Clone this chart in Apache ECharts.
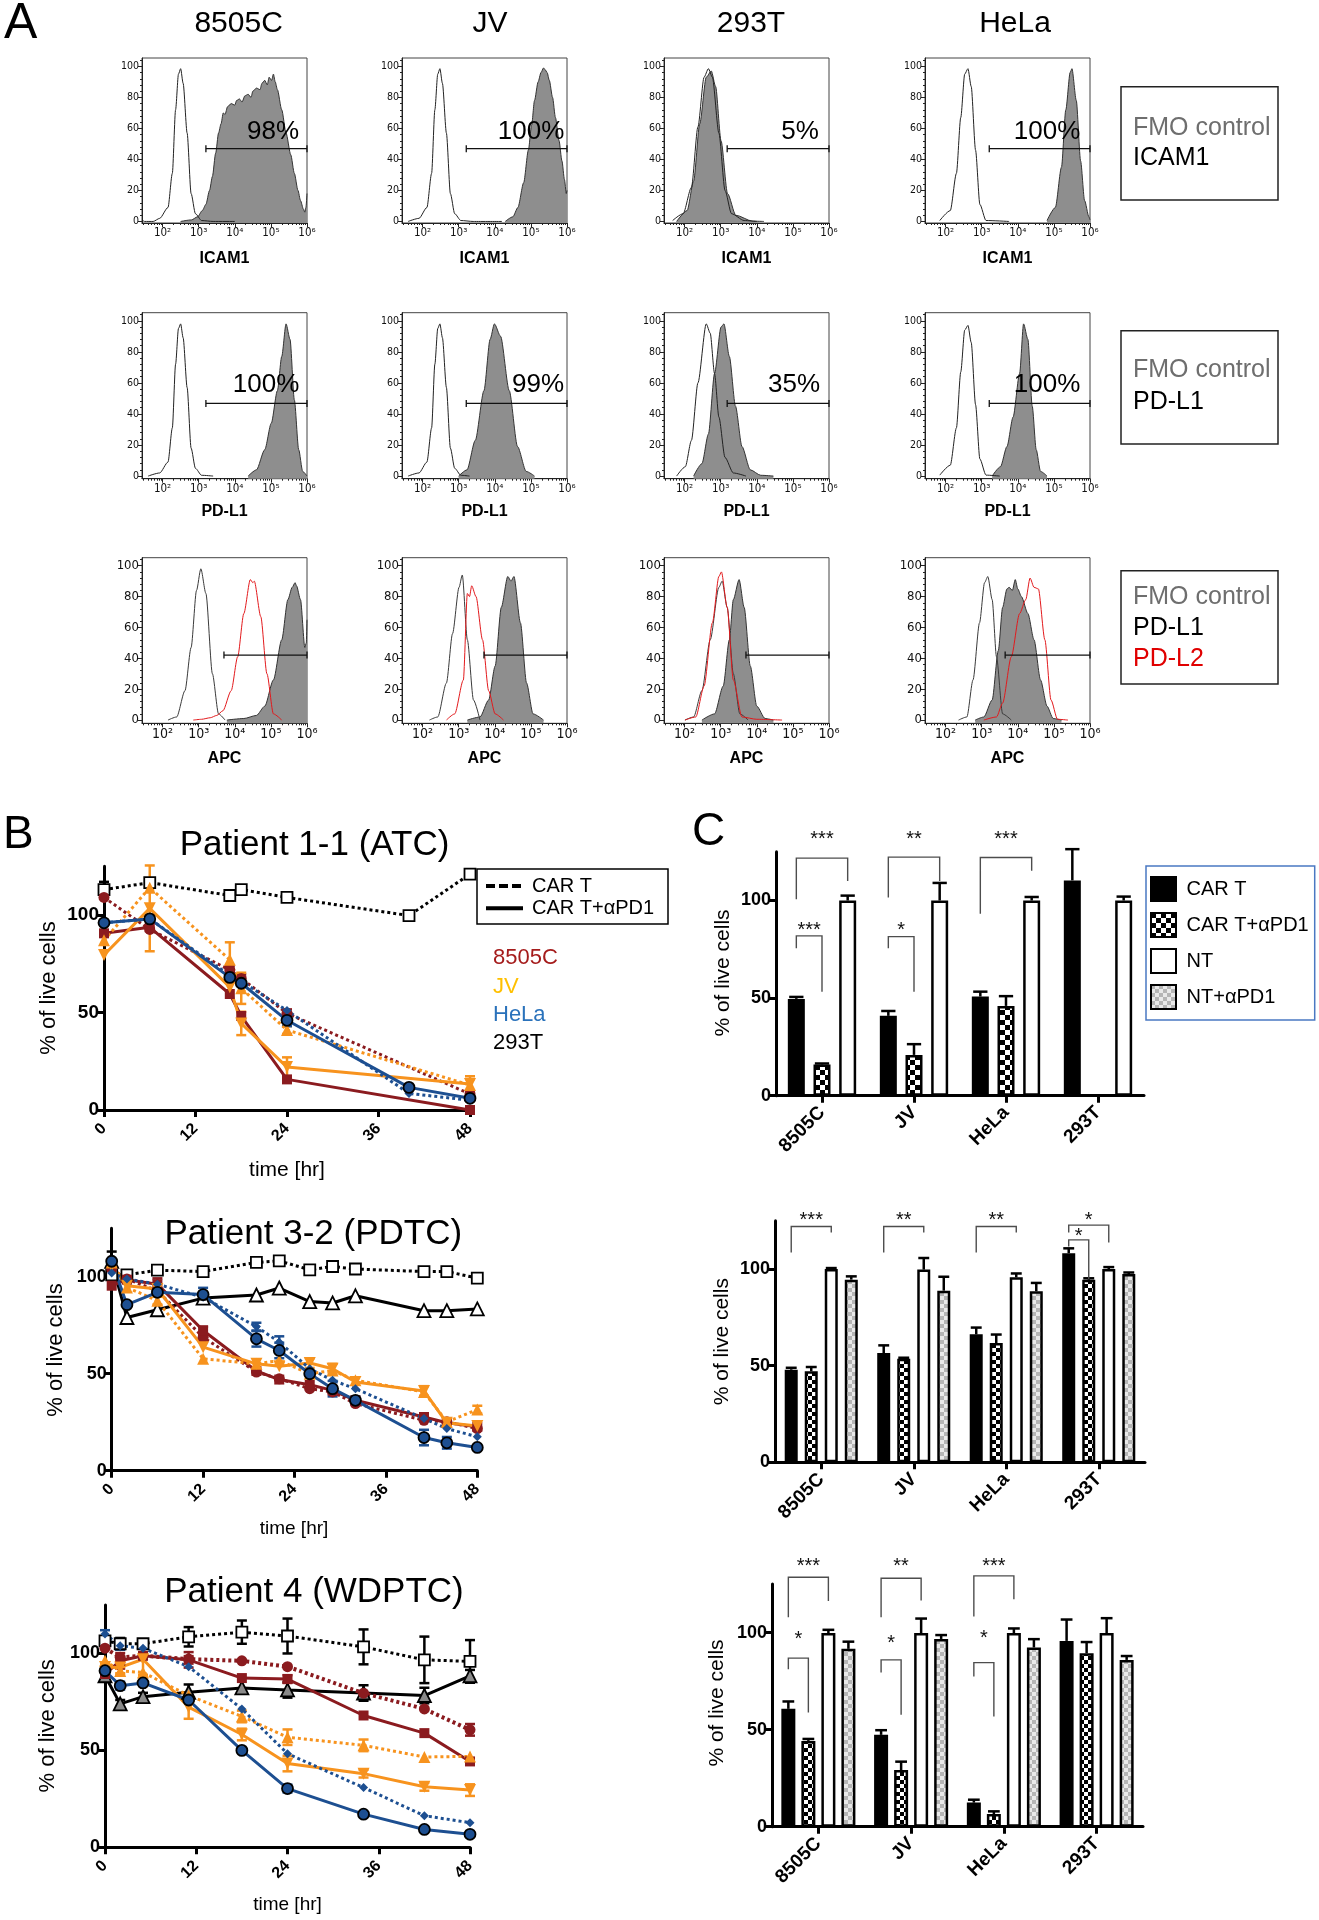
<!DOCTYPE html>
<html><head><meta charset="utf-8">
<script src="https://cdn.jsdelivr.net/npm/echarts@6/dist/echarts.min.js"></script>
<style>html,body{margin:0;padding:0;background:#fff}#c{width:1319px;height:1920px}</style>
</head><body><div id="c"></div><script>
// ================= DATA =================
// ---- Panel A: flow histograms. x = log10(fluorescence), y = % of max ----
const cellLines = ['8505C', 'JV', '293T', 'HeLa'];
const stainNames = ['ICAM1', 'PD-L1', 'APC'];
const logTicks = [2, 3, 4, 5, 6];
const logTickLabels = ['10²', '10³', '10⁴', '10⁵', '10⁶'];
const countTicks = [0, 20, 40, 60, 80, 100];
const pctICAM1 = ['98%', '100%', '5%', '100%'];
const pctPDL1 = ['100%', '99%', '35%', '100%'];
const gateStartICAM1 = [3.20, 3.21, 3.18, 3.21];
const gateStartPDL1 = [3.20, 3.21, 3.18, 3.21];
const gateStartAPC = [3.70, 3.70, 3.70, 3.65];
const gateLevel = [46.9, 46.8, 42.1];
const gateEnd = 6.0;

const icam_8505C_fmo = [[1.43,1],[1.5,0],[1.74,0],[1.92,2],[2.15,9],[2.27,31],[2.36,72],[2.44,95],[2.5,98.5],[2.57,89],[2.68,57],[2.79,18],[2.91,5],[3.08,0.6],[3.4,0],[4.0,0]];
const icam_8505C_pos = [[2.5,0],[2.8,1],[2.97,3],[3.1,7],[3.2,11],[3.3,20],[3.38,29],[3.47,44],[3.55,57],[3.62,63],[3.68,70],[3.73,69],[3.8,74],[3.9,76],[4.0,75],[4.05,78],[4.13,79],[4.2,77],[4.28,81],[4.37,82],[4.45,80],[4.5,84],[4.6,86],[4.7,85],[4.75,89],[4.83,91],[4.9,88],[4.95,93],[5.02,91],[5.07,95],[5.12,90],[5.18,85],[5.3,72],[5.42,57],[5.55,43],[5.65,31],[5.75,20],[5.82,13.5],[5.9,8],[5.94,6],[5.97,9],[6.0,18]];
const icam_JV_fmo = [[1.6,0],[1.9,2],[2.12,9],[2.25,31],[2.34,72],[2.42,95],[2.48,98.5],[2.55,89],[2.66,57],[2.77,18],[2.89,5],[3.06,0.6],[3.4,0],[4.2,0]];
const icam_JV_pos = [[4.29,0],[4.5,3],[4.64,9],[4.8,25],[4.93,46],[5.02,62],[5.1,78],[5.2,90],[5.28,96],[5.35,99],[5.39,98],[5.45,96],[5.51,91],[5.6,80],[5.68,67],[5.78,52],[5.86,39],[5.93,27],[5.98,18],[6.0,20]];
const icam_293T_fmo = [[1.67,0.6],[1.96,5],[2.19,22],[2.37,61],[2.54,93],[2.66,98.5],[2.77,93],[2.95,57],[3.12,20],[3.3,5],[3.65,0.6],[4.0,0]];
const icam_293T_pos = [[1.78,0],[2.07,7],[2.25,26],[2.42,63],[2.6,93],[2.74,97],[2.86,87],[3.01,52],[3.19,18],[3.42,4],[3.88,0.2],[4.2,0]];
const icam_HeLa_fmo = [[1.84,0.6],[2.13,7],[2.3,31],[2.42,67],[2.53,95],[2.62,98.5],[2.71,87],[2.83,46],[2.95,11],[3.12,0.6],[3.76,0]];
const icam_HeLa_pos = [[4.81,0.6],[5.04,9],[5.21,35],[5.33,72],[5.45,96],[5.5,98.5],[5.62,78],[5.74,39],[5.85,13.5],[5.97,3],[6.0,1]];

const pdl1_8505C_fmo = [[1.6,0],[1.92,2],[2.15,9],[2.27,31],[2.36,72],[2.44,95],[2.5,98],[2.57,89],[2.68,57],[2.79,18],[2.91,5],[3.08,0.5],[3.4,0]];
const pdl1_8505C_pos = [[4.37,0],[4.6,4],[4.83,17],[5.01,34],[5.18,55],[5.3,77],[5.42,98],[5.53,88],[5.65,49],[5.77,17],[5.88,3],[6.0,0]];
const pdl1_JV_fmo = [[1.6,0],[1.9,2],[2.12,9],[2.25,31],[2.34,72],[2.42,95],[2.48,98],[2.55,89],[2.66,57],[2.77,18],[2.89,5],[3.06,0.5],[3.3,0]];
const pdl1_JV_pos = [[3.0,0],[3.23,4],[3.46,23],[3.7,55],[3.87,88],[3.99,98],[4.16,90],[4.4,55],[4.63,19],[4.87,3],[5.1,0]];
const pdl1_293T_fmo = [[1.78,0],[2.02,6],[2.19,23],[2.37,60],[2.6,98],[2.71,92],[2.83,66],[2.95,38],[3.12,12],[3.35,2],[3.7,0]];
const pdl1_293T_pos = [[2.25,0],[2.48,8],[2.66,27],[2.83,66],[3.01,96],[3.09,98],[3.24,77],[3.41,45],[3.59,19],[3.82,4],[4.11,0.5],[4.46,0]];
const pdl1_HeLa_fmo = [[1.84,0.6],[2.13,7],[2.3,31],[2.42,67],[2.53,94],[2.62,97],[2.71,86],[2.83,46],[2.95,11],[3.12,0.6],[3.5,0]];
const pdl1_HeLa_pos = [[3.29,0],[3.52,6],[3.7,19],[3.87,38],[4.05,66],[4.16,98],[4.28,88],[4.4,45],[4.51,17],[4.63,3],[4.81,0]];

const apc_8505C_fmo = [[2.15,0],[2.39,2],[2.62,19],[2.79,47],[2.94,84],[3.06,98],[3.2,82],[3.38,30],[3.55,4],[3.73,0]];
const apc_8505C_pdl2 = [[2.85,0],[3.08,0.5],[3.32,1.5],[3.5,3],[3.67,6],[3.9,19],[4.08,41],[4.25,69],[4.43,91],[4.5,89],[4.54,90],[4.72,67],[4.89,30],[5.07,4],[5.3,0]];
const apc_8505C_pdl1 = [[3.78,0],[4.25,1],[4.6,3],[4.83,9],[5.07,26],[5.3,52],[5.47,78],[5.59,86],[5.67,89],[5.71,87],[5.82,78],[5.94,47],[5.98,50],[6.0,65]];
const apc_JV_fmo = [[2.19,0],[2.42,2],[2.66,24],[2.83,56],[3.01,86],[3.1,94],[3.24,52],[3.41,13],[3.59,0]];
const apc_JV_pdl2 = [[2.66,0],[2.89,4],[3.13,26],[3.24,82],[3.3,80],[3.36,87],[3.48,80],[3.66,52],[3.83,19],[4.01,4],[4.24,0]];
const apc_JV_pdl1 = [[3.24,0],[3.59,2],[3.83,13],[4.01,35],[4.18,73],[4.36,93],[4.45,90],[4.53,93],[4.71,63],[4.88,24],[5.06,4],[5.35,0]];
const apc_293T_fmo = [[2.01,0],[2.25,2],[2.48,19],[2.71,52],[2.95,86],[3.04,90],[3.18,73],[3.35,30],[3.53,4],[3.76,0]];
const apc_293T_pdl2 = [[2.01,0],[2.31,2],[2.54,22],[2.77,63],[2.95,93],[3.02,96],[3.18,73],[3.35,26],[3.59,2],[4.0,0.5],[4.7,0]];
const apc_293T_pdl1 = [[2.48,0],[2.83,4],[3.07,22],[3.24,52],[3.35,78],[3.51,91],[3.65,73],[3.82,35],[4.0,9],[4.23,1],[4.46,0]];
const apc_HeLa_fmo = [[2.36,0],[2.59,2],[2.76,26],[2.94,63],[3.08,89],[3.17,93],[3.29,78],[3.41,41],[3.58,4],[3.82,0]];
const apc_HeLa_pdl1 = [[2.82,0],[3.06,2],[3.29,13],[3.46,45],[3.58,73],[3.7,85],[3.76,86],[3.85,84],[3.93,91],[4.0,85],[4.1,80],[4.28,69],[4.45,52],[4.63,26],[4.81,9],[4.98,1],[5.21,0]];
const apc_HeLa_pdl2 = [[3.06,0],[3.41,2],[3.58,11],[3.82,41],[4.05,69],[4.22,78],[4.34,92],[4.45,86],[4.57,85],[4.75,52],[4.92,13],[5.1,0.5],[5.39,0]];

// ---- Panel B: % live cells over time ----
const timeTicks = [0, 12, 24, 36, 48];
const liveTicks = [0, 50, 100];

const p11Hours = [0, 6, 16.5, 18, 24, 40, 48];
const p11_293T_CART = [113, 116.6, 110, 113, 109, 99.7, 121];
const p11_293T_CART_err = [4, 1, 1, 1, 1, 1, 1];
const p11_8505C_CART = [109, 92.6, 71.8, 67.5, 49.6, null, 8.2];
const p11_8505C_CART_err = [0, 0, 2, 2, 2, 0, 1];
const p11_8505C_PD1 = [90.6, 93.7, 59.5, 48.2, 15.7, null, 0];
const p11_8505C_PD1_err = [0, 0, 0, 0, 0, 0, 0];
const p11_JV_CART = [87, 114, 77, 62.4, 41, null, 12.8];
const p11_JV_CART_err = [0, 0, 9, 8, 2, 0, 3];
const p11_JV_PD1 = [79.5, 103.4, 63, 44.4, 22, null, 13.3];
const p11_JV_PD1_err = [0, 22, 0, 6, 5, 0, 4];
const p11_HeLa_CART = [96, 98, 69, 66, 51, 8.5, 5];
const p11_HeLa_CART_err = [0, 0, 0, 0, 0, 0, 0];
const p11_HeLa_PD1 = [96, 98, 68, 65, 46, 11.6, 6];
const p11_HeLa_PD1_err = [0, 0, 0, 0, 3, 0, 0];

const p32Hours = [0, 2, 6, 12, 19, 22, 26, 29, 32, 41, 44, 48];
const p32_293T_CART = [101, 101, 103.4, 102.7, 107.4, 108.2, 103.6, 105.3, 104, 102.7, 102.7, 99.3];
const p32_293T_CART_err = [0, 0, 1, 1, 1, 1, 1, 1, 1, 1, 1, 0];
const p32_293T_PD1 = [108, 79, 83, 89, 90.6, 94.2, 87.2, 86.5, 90.2, 82.5, 82.5, 83.4];
const p32_293T_PD1_err = [5, 0, 0, 0, 0, 0, 0, 0, 0, 0, 0, 0];
const p32_8505C_CART = [104, 98.8, 92.8, 68.8, 50.9, 47.4, 42.3, 40.6, 34.6, 26, 25.2, 21.7];
const p32_8505C_CART_err = [0, 0, 0, 0, 0, 0, 0, 0, 0, 0, 0, 0];
const p32_8505C_PD1 = [95.4, 98.5, 96.2, 72.3, 51.4, 47, 44.3, 41.4, 36.3, 27.7, 24.7, 22.6];
const p32_8505C_PD1_err = [0, 0, 3, 2, 0, 0, 0, 0, 0, 0, 0, 0];
const p32_JV_CART = [107.4, 94.5, 87.7, 57.7, 55.1, 56.8, 50, 51.7, 46.6, 40.6, 25.2, 31.5];
const p32_JV_CART_err = [0, 0, 2, 0, 0, 0, 0, 0, 0, 0, 0, 2];
const p32_JV_PD1 = [105.7, 95.4, 93.7, 63.7, 55.1, 53.9, 55.5, 52.6, 45.7, 41.1, 24.7, 23];
const p32_JV_PD1_err = [0, 0, 0, 0, 0, 0, 2.5, 2.5, 0, 2.5, 0, 0];
const p32_HeLa_CART = [102, 98.8, 96.2, 89.4, 74.3, 66.3, 52.6, 46.6, 42.3, 26.9, 21.7, 17.5];
const p32_HeLa_CART_err = [0, 0, 0, 0, 2, 3, 0, 0, 0, 0, 0, 0];
const p32_HeLa_PD1 = [108, 85.6, 92, 90.8, 68, 62, 50, 42.3, 36.3, 17.1, 14.4, 12];
const p32_HeLa_PD1_err = [0, 0, 0, 3.5, 4, 4, 0, 4, 2, 4, 3, 0];

const p4Hours = [0, 2, 5, 11, 18, 24, 34, 42, 48];
const p4_293T_CART = [106.5, 105, 105, 108.6, 111, 109, 103.4, 96.7, 95.9];
const p4_293T_CART_err = [0, 3, 2, 5, 6, 9, 9, 12, 11];
const p4_293T_PD1 = [88.5, 74, 77.7, 80, 82.2, 81.2, 79.6, 78.3, 88.5];
const p4_293T_PD1_err = [0, 2, 2, 4, 0, 4, 4, 4, 3];
const p4_8505C_CART = [102.7, 98, 98.8, 97.1, 96.2, 93.2, 79.5, 71.4, 60.6];
const p4_8505C_CART_err = [0, 0, 0, 0, 0, 0, 0, 0, 3];
const p4_8505C_PD1 = [89.4, 96.2, 98.8, 96.7, 87.3, 86.8, 68, 58.9, 44.3];
const p4_8505C_PD1_err = [0, 4, 0, 4, 0, 2, 0, 0, 0];
const p4_JV_CART = [96.2, 91, 90.2, 78.3, 67.5, 56.8, 52.6, 46.6, 46.9];
const p4_JV_CART_err = [0, 2, 0, 0, 3, 4, 3, 0, 0];
const p4_JV_PD1 = [93, 92.8, 97, 72.3, 58.2, 43.2, 38, 31.2, 29.5];
const p4_JV_PD1_err = [2, 3, 8, 6, 3, 4, 2, 2, 3];
const p4_HeLa_CART = [110, 104, 102.7, 93.2, 71.4, 48.3, 30.8, 16.3, 12.7];
const p4_HeLa_CART_err = [2, 2, 0, 0, 0, 0, 0, 0, 0];
const p4_HeLa_PD1 = [91.1, 83.4, 84.8, 76, 50, 30.3, 17.1, 9.2, 6.7];
const p4_HeLa_PD1_err = [0, 2, 0, 0, 0, 2, 0, 0, 0];

// ---- Panel C: bar charts ----
const barCategories = ['8505C', 'JV', 'HeLa', '293T'];
const barSeriesNames = ['CAR T', 'CAR T+αPD1', 'NT', 'NT+αPD1'];
const c1_CART = [49.6, 40.9, 50.8, 110.3];      const c1_CART_err = [1, 2.5, 2.5, 16];
const c1_CART_PD1 = [16, 20.9, 46, null];      const c1_CART_PD1_err = [0.5, 5.5, 5, 0];
const c1_NT = [100, 100, 100, 100];            const c1_NT_err = [2.5, 9, 1.8, 2];
const c2_CART = [47.9, 56.5, 66.2, 108.2];     const c2_CART_err = [1, 4, 3.5, 2.5];
const c2_CART_PD1 = [47.1, 53.6, 61.7, 94.5];  const c2_CART_PD1_err = [2.2, 0.5, 4.4, 0.7];
const c2_NT = [100, 99.7, 95.7, 100];          const c2_NT_err = [0.5, 6, 2, 1];
const c2_NT_PD1 = [94.5, 88.8, 88.5, 97.4];    const c2_NT_PD1_err = [1.7, 7.2, 4.3, 0.8];
const c3_CART = [60.7, 47.3, 12.4, 95.7];      const c3_CART_err = [3.8, 2.4, 1.5, 11];
const c3_CART_PD1 = [44.2, 29.2, 6.5, 89.3];   const c3_CART_PD1_err = [1, 4.3, 1.4, 5.8];
const c3_NT = [99.7, 99.7, 99.7, 99.7];        const c3_NT_err = [1.7, 7.5, 2.4, 7.7];
const c3_NT_PD1 = [91.6, 96.7, 92.3, 85.9];    const c3_NT_PD1_err = [3.7, 2, 4.3, 2];
// brackets: [category, barA, barB, topValue, legEndA, legEndB, starValue]
const c1_brackets = [[0,0,2,121.7,100.7,110,133.7],[0,0,1,81.9,75.6,53.3,87],[1,0,2,122.2,101.5,110,133.7],[1,0,1,81.5,75.6,53.3,87],[2,0,2,122,93.2,115.2,133.7]];
const c1_stars = ['***', '***', '**', '*', '***'];
const c2_brackets = [[0,0,2,122,108.6,118.9,127.8],[1,0,2,122,108.6,118.9,127.8],[2,0,2,122,108.6,118.9,127.8],[3,0,2,122.7,118.9,113.7,127.8],[3,0,1,115.1,111.7,94.8,119.3]];
const c2_stars = ['***', '**', '**', '*', '*'];
const c3_brackets = [[0,0,2,128.5,107.9,116.3,136.8],[0,0,1,86.8,81.1,58.8,98.8],[1,0,2,128,107.9,116.5,136.8],[1,0,1,85.9,79.4,57.6,97],[2,0,2,129.2,108.2,117.2,136.8],[2,0,1,84.5,77.3,56.7,99.7]];
const c3_stars = ['***', '*', '**', '*', '***', '*'];

// ================= BUILD =================
const SANS = "'Liberation Sans', Arial, sans-serif";
const NARROW = "'DejaVu Sans Condensed','DejaVu Sans','Liberation Sans',sans-serif";
const C8505 = '#8b1b1f', CJV = '#f7931e', CHELA = '#1d4f91';
const grids = [], xAxes = [], yAxes = [], series = [], gfx = [];

function txt(s, x, y, size, o) {
  o = o || {};
  gfx.push({type: 'text', x: x, y: y, rotation: o.rot || 0, z: 100, silent: true,
    style: {text: s, fontSize: size, fontFamily: o.family || SANS, fontWeight: o.weight || 'normal',
      fill: o.color || '#000', align: o.align || 'center', verticalAlign: 'middle',
      textAlign: o.align || 'center', textVerticalAlign: 'middle'}});
}
function rect(x, y, w, h, color, lw) {
  gfx.push({type: 'rect', z: 90, silent: true, shape: {x: x, y: y, width: w, height: h}, style: {fill: 'none', stroke: color, lineWidth: lw}});
}
function gline(x1, y1, x2, y2, lw, dash) {
  gfx.push({type: 'line', z: 90, silent: true, shape: {x1: x1, y1: y1, x2: x2, y2: y2}, style: {stroke: '#000', lineWidth: lw, lineDash: dash || null}});
}
function checker(c1, c2, s) {
  const cv = document.createElement('canvas'); cv.width = cv.height = 2 * s;
  const ctx = cv.getContext('2d'); ctx.fillStyle = c1; ctx.fillRect(0, 0, 2 * s, 2 * s);
  ctx.fillStyle = c2; ctx.fillRect(0, 0, s, s); ctx.fillRect(s, s, s, s);
  return {image: cv, repeat: 'repeat'};
}

// ---------- Panel A ----------
const rowTop = [58, 312.7, 557.7], rowH = [165, 166, 165.6], rowMin = [-1, -1.7, -2.1], rowMax = [105.4, 105.2, 105.2];
const colLeft = [142, 402, 664, 925], boxW = 165;
const histCurves = [
  [{fill: icam_8505C_pos, fmo: icam_8505C_fmo}, {fill: icam_JV_pos, fmo: icam_JV_fmo}, {fill: icam_293T_pos, fmo: icam_293T_fmo}, {fill: icam_HeLa_pos, fmo: icam_HeLa_fmo}],
  [{fill: pdl1_8505C_pos, fmo: pdl1_8505C_fmo}, {fill: pdl1_JV_pos, fmo: pdl1_JV_fmo}, {fill: pdl1_293T_pos, fmo: pdl1_293T_fmo}, {fill: pdl1_HeLa_pos, fmo: pdl1_HeLa_fmo}],
  [{fill: apc_8505C_pdl1, fmo: apc_8505C_fmo, red: apc_8505C_pdl2}, {fill: apc_JV_pdl1, fmo: apc_JV_fmo, red: apc_JV_pdl2}, {fill: apc_293T_pdl1, fmo: apc_293T_fmo, red: apc_293T_pdl2}, {fill: apc_HeLa_pdl1, fmo: apc_HeLa_fmo, red: apc_HeLa_pdl2}]
];
const gateStarts = [gateStartICAM1, gateStartPDL1, gateStartAPC];
const minorLog = []; for (let n = 1; n <= 5; n++) for (let k = 2; k <= 9; k++) { const v = n + Math.log10(k); if (v > 1.43 && v < 6) minorLog.push(v); }
const minorCount = []; for (let v = 4; v <= 104; v += 4) if (v % 20 !== 0) minorCount.push(v);

function gateRender(params, api) {
  const p0 = api.coord([api.value(0), api.value(2)]), p1 = api.coord([api.value(1), api.value(2)]);
  return {type: 'group', children: [
    {type: 'line', shape: {x1: p0[0], y1: p0[1], x2: p1[0], y2: p1[1]}, style: {stroke: '#111', lineWidth: 1.3}},
    {type: 'line', shape: {x1: p0[0], y1: p0[1] - 3.5, x2: p0[0], y2: p0[1] + 3.5}, style: {stroke: '#111', lineWidth: 1.3}},
    {type: 'line', shape: {x1: p1[0], y1: p1[1] - 3.5, x2: p1[0], y2: p1[1] + 3.5}, style: {stroke: '#111', lineWidth: 1.3}}
  ]};
}

for (let r = 0; r < 3; r++) {
  for (let c = 0; c < 4; c++) {
    const g = grids.length;
    grids.push({left: colLeft[c], top: rowTop[r], width: boxW, height: rowH[r], show: true, borderColor: '#444', borderWidth: 1, backgroundColor: 'transparent'});
    const fs = r === 2 ? 13 : 10.5;
    const xi = xAxes.length;
    xAxes.push({type: 'value', gridIndex: g, position: 'bottom', min: 1.43, max: 6,
      axisLine: {show: true, onZero: false, lineStyle: {color: '#222', width: 1}}, splitLine: {show: false},
      axisTick: {show: true, customValues: logTicks, length: 4, lineStyle: {color: '#222'}},
      axisLabel: {show: true, customValues: logTicks, margin: 4, fontSize: fs + 1, fontFamily: NARROW, color: '#111',
        formatter: function (v) { return logTickLabels[logTicks.indexOf(Math.round(v))]; }}});
    xAxes.push({type: 'value', gridIndex: g, position: 'bottom', min: 1.43, max: 6,
      axisLine: {show: false, onZero: false}, splitLine: {show: false},
      axisTick: {show: true, customValues: minorLog, length: 2, lineStyle: {color: '#222'}}, axisLabel: {show: false}});
    const yi = yAxes.length;
    yAxes.push({type: 'value', gridIndex: g, position: 'left', min: rowMin[r], max: rowMax[r],
      axisLine: {show: true, onZero: false, lineStyle: {color: '#222', width: 1}}, splitLine: {show: false},
      axisTick: {show: true, customValues: countTicks, length: 4, lineStyle: {color: '#222'}},
      axisLabel: {show: true, customValues: countTicks, fontSize: fs, fontFamily: NARROW, color: '#111', margin: 3}});
    yAxes.push({type: 'value', gridIndex: g, position: 'left', min: rowMin[r], max: rowMax[r],
      axisLine: {show: false, onZero: false}, splitLine: {show: false},
      axisTick: {show: true, customValues: minorCount, length: 2, lineStyle: {color: '#222'}}, axisLabel: {show: false}});
    const cv = histCurves[r][c];
    series.push({type: 'line', xAxisIndex: xi, yAxisIndex: yi, data: cv.fill, smooth: 0.25, smoothMonotone: 'x', symbol: 'none', silent: true,
      lineStyle: {color: '#333', width: 1}, areaStyle: {color: '#8e8e8e', opacity: 1, origin: 'start'}, z: 2});
    series.push({type: 'line', xAxisIndex: xi, yAxisIndex: yi, data: cv.fmo, smooth: 0.25, smoothMonotone: 'x', symbol: 'none', silent: true,
      lineStyle: {color: r === 2 ? '#3a3a3a' : '#222', width: 1}, z: 3});
    if (cv.red) series.push({type: 'line', xAxisIndex: xi, yAxisIndex: yi, data: cv.red, smooth: 0.25, smoothMonotone: 'x', symbol: 'none', silent: true,
      lineStyle: {color: '#e3191c', width: 1}, z: 4});
    series.push({type: 'custom', xAxisIndex: xi, yAxisIndex: yi, data: [[gateStarts[r][c], gateEnd, gateLevel[r]]], renderItem: gateRender, z: 5, silent: true});
    txt(stainNames[r], colLeft[c] + boxW / 2, [258.3, 511.7, 758.3][r], 16, {weight: 'bold'});
  }
}
txt('A', 4, 24, 50, {align: 'left'});
[238.6, 490, 751, 1015].forEach((x, i) => txt(cellLines[i], x, 24, 30));
[273, 531, 800, 1047].forEach((x, i) => txt(pctICAM1[i], x, 131.7, 26));
[266, 538, 794, 1047].forEach((x, i) => txt(pctPDL1[i], x, 385, 26));
rect(1121, 86.7, 157, 113.3, '#222', 1.5);
txt('FMO control', 1133, 127.7, 25, {align: 'left', color: '#6e6e6e'});
txt('ICAM1', 1133, 158.3, 25, {align: 'left'});
rect(1121, 330.7, 157, 113.3, '#222', 1.5);
txt('FMO control', 1133, 370, 25, {align: 'left', color: '#6e6e6e'});
txt('PD-L1', 1133, 401.7, 25, {align: 'left'});
rect(1121, 570.7, 157, 113.3, '#222', 1.5);
txt('FMO control', 1133, 596.7, 25, {align: 'left', color: '#6e6e6e'});
txt('PD-L1', 1133, 628.3, 25, {align: 'left'});
txt('PD-L2', 1133, 659.3, 25, {align: 'left', color: '#e00000'});

// ---------- Panel B ----------
function lineErrRender(colors) {
  return function (params, api) {
    const t = api.value(0), v = api.value(1), e = api.value(2), ci = api.value(3);
    const a = api.coord([t, v - e]), b = api.coord([t, v + e]);
    const st = {stroke: colors[ci], lineWidth: 2.5};
    return {type: 'group', children: [
      {type: 'line', shape: {x1: a[0], y1: a[1], x2: b[0], y2: b[1]}, style: st},
      {type: 'line', shape: {x1: a[0] - 5, y1: a[1], x2: a[0] + 5, y2: a[1]}, style: st},
      {type: 'line', shape: {x1: b[0] - 5, y1: b[1], x2: b[0] + 5, y2: b[1]}, style: st}
    ]};
  };
}
function addTimeCourse(box, hours, specs, tickFs, labFs) {
  const g = grids.length;
  grids.push({left: box.left, top: box.top, width: box.width, height: box.height});
  const xi = xAxes.length;
  xAxes.push({type: 'value', gridIndex: g, position: 'bottom', min: 0, max: 48, interval: 12,
    axisLine: {show: true, onZero: false, lineStyle: {color: '#000', width: 3}}, splitLine: {show: false},
    axisTick: {show: true, length: 7, lineStyle: {color: '#000', width: 3}},
    axisLabel: {show: true, customValues: timeTicks, rotate: 45, fontWeight: 'bold', fontSize: labFs, color: '#000', margin: 16, fontFamily: SANS}});
  const yi = yAxes.length;
  yAxes.push({type: 'value', gridIndex: g, position: 'left', min: 0, max: 125,
    axisLine: {show: true, onZero: false, lineStyle: {color: '#000', width: 3}}, splitLine: {show: false},
    axisTick: {show: true, customValues: liveTicks, length: 7, lineStyle: {color: '#000', width: 3}},
    axisLabel: {show: true, customValues: liveTicks, fontWeight: 'bold', fontSize: tickFs, color: '#000', margin: 5, fontFamily: SANS}});
  const errData = [];
  specs.forEach(function (s, k) {
    const data = [];
    hours.forEach(function (h, i) { if (s.vals[i] != null) data.push([h, s.vals[i]]); });
    series.push({type: 'line', xAxisIndex: xi, yAxisIndex: yi, data: data, symbol: s.sym, symbolSize: s.size, symbolRotate: s.rot || 0,
      showAllSymbol: true, silent: true, z: 3,
      lineStyle: {color: s.color, width: s.w || 3, type: s.dot ? [3, 3] : 'solid'},
      itemStyle: {color: s.fill, borderColor: s.border || s.fill, borderWidth: s.border ? 1.8 : 0}});
    s.err.forEach(function (e, i) { if (e > 0 && s.vals[i] != null) errData.push([hours[i], s.vals[i], e, k]); });
  });
  series.push({type: 'custom', xAxisIndex: xi, yAxisIndex: yi, data: errData, renderItem: lineErrRender(specs.map(function (s) { return s.color; })), z: 2, silent: true});
}
function specsFor(d) {
  return [
    {vals: d.t293c, err: d.t293ce, color: '#000', dot: true, sym: 'rect', size: 11, fill: '#fff', border: '#000'},
    {vals: d.t293p, err: d.t293pe, color: '#000', dot: false, sym: 'triangle', size: 13, fill: d.triFill, border: '#000'},
    {vals: d.a8c, err: d.a8ce, color: C8505, dot: true, sym: 'circle', size: 11, fill: C8505, w: d.w8 || 3},
    {vals: d.a8p, err: d.a8pe, color: C8505, dot: false, sym: 'rect', size: 10, fill: C8505},
    {vals: d.jvc, err: d.jvce, color: CJV, dot: true, sym: 'triangle', size: 12, fill: CJV},
    {vals: d.jvp, err: d.jvpe, color: CJV, dot: false, sym: 'triangle', rot: 180, size: 12, fill: CJV},
    {vals: d.hc, err: d.hce, color: CHELA, dot: true, sym: 'diamond', size: 9, fill: CHELA},
    {vals: d.hp, err: d.hpe, color: CHELA, dot: false, sym: 'circle', size: 11, fill: CHELA, border: '#000'}
  ].filter(function (s) { return s.vals; });
}
addTimeCourse({left: 104, top: 866.25, width: 366, height: 243.75}, p11Hours, specsFor({
  t293c: p11_293T_CART, t293ce: p11_293T_CART_err,
  a8c: p11_8505C_CART, a8ce: p11_8505C_CART_err, a8p: p11_8505C_PD1, a8pe: p11_8505C_PD1_err,
  jvc: p11_JV_CART, jvce: p11_JV_CART_err, jvp: p11_JV_PD1, jvpe: p11_JV_PD1_err,
  hc: p11_HeLa_CART, hce: p11_HeLa_CART_err, hp: p11_HeLa_PD1, hpe: p11_HeLa_PD1_err}), 19, 16);
addTimeCourse({left: 111.7, top: 1228.3, width: 365.6, height: 242.4}, p32Hours, specsFor({
  t293c: p32_293T_CART, t293ce: p32_293T_CART_err, t293p: p32_293T_PD1, t293pe: p32_293T_PD1_err, triFill: '#fff',
  a8c: p32_8505C_CART, a8ce: p32_8505C_CART_err, a8p: p32_8505C_PD1, a8pe: p32_8505C_PD1_err,
  jvc: p32_JV_CART, jvce: p32_JV_CART_err, jvp: p32_JV_PD1, jvpe: p32_JV_PD1_err,
  hc: p32_HeLa_CART, hce: p32_HeLa_CART_err, hp: p32_HeLa_PD1, hpe: p32_HeLa_PD1_err}), 18, 16);
addTimeCourse({left: 105, top: 1605, width: 365, height: 242.3}, p4Hours, specsFor({
  t293c: p4_293T_CART, t293ce: p4_293T_CART_err, t293p: p4_293T_PD1, t293pe: p4_293T_PD1_err, triFill: '#8a8a8a',
  a8c: p4_8505C_CART, a8ce: p4_8505C_CART_err, a8p: p4_8505C_PD1, a8pe: p4_8505C_PD1_err, w8: 4,
  jvc: p4_JV_CART, jvce: p4_JV_CART_err, jvp: p4_JV_PD1, jvpe: p4_JV_PD1_err,
  hc: p4_HeLa_CART, hce: p4_HeLa_CART_err, hp: p4_HeLa_PD1, hpe: p4_HeLa_PD1_err}), 18, 16);

txt('B', 3, 835, 46, {align: 'left'});
txt('Patient 1-1 (ATC)', 314.5, 845.5, 35);
txt('% of live cells', 48.8, 988, 22, {rot: Math.PI / 2});
txt('time [hr]', 287, 1170, 21);
rect(477, 869, 191, 55, '#000', 1.5);
gline(486, 886, 523, 886, 4, [9, 4]);
gline(486, 908.3, 523, 908.3, 4);
txt('CAR T', 532, 886, 20, {align: 'left'});
txt('CAR T+αPD1', 532, 908.3, 20, {align: 'left'});
txt('8505C', 493, 958.3, 22, {align: 'left', color: '#a51c1c'});
txt('JV', 493, 986.7, 22, {align: 'left', color: '#ffc000'});
txt('HeLa', 493, 1015, 22, {align: 'left', color: '#2a72bb'});
txt('293T', 493, 1043.3, 22, {align: 'left'});
txt('Patient 3-2 (PDTC)', 313.3, 1234, 35);
txt('% of live cells', 55.8, 1350, 22, {rot: Math.PI / 2});
txt('time [hr]', 294, 1529, 19);
txt('Patient 4 (WDPTC)', 314, 1592.5, 35);
txt('% of live cells', 47.5, 1725.8, 22, {rot: Math.PI / 2});
txt('time [hr]', 287.5, 1905, 19);

// ---------- Panel C ----------
function barErrRender(n, j, spacing, cap) {
  return function (params, api) {
    const cat = api.value(0), v = api.value(1), e = api.value(2);
    if (isNaN(v) || !(e > 0)) return null;
    const p0 = api.coord([cat, v]), p1 = api.coord([cat, v + e]);
    const x = p0[0] + (j - (n - 1) / 2) * spacing;
    const st = {stroke: '#000', lineWidth: 2.5};
    return {type: 'group', children: [
      {type: 'line', shape: {x1: x, y1: p0[1], x2: x, y2: p1[1]}, style: st},
      {type: 'line', shape: {x1: x - cap, y1: p1[1], x2: x + cap, y2: p1[1]}, style: st}
    ]};
  };
}
function bracketRender(n, spacing, labels) {
  return function (params, api) {
    const cat = api.value(0), a = api.value(1), b = api.value(2);
    const c = api.coord([cat, 0])[0];
    const xa = c + (a - (n - 1) / 2) * spacing, xb = c + (b - (n - 1) / 2) * spacing;
    const yt = api.coord([cat, api.value(3)])[1], ya = api.coord([cat, api.value(4)])[1], yb = api.coord([cat, api.value(5)])[1];
    const ys = api.coord([cat, api.value(6)])[1];
    return {type: 'group', children: [
      {type: 'polyline', shape: {points: [[xa, ya], [xa, yt], [xb, yt], [xb, yb]]}, style: {stroke: '#4d4d4d', lineWidth: 1.4, fill: null}},
      {type: 'text', style: {text: labels[params.dataIndex], x: (xa + xb) / 2, y: ys + 5, align: 'center', verticalAlign: 'middle',
        textAlign: 'center', textVerticalAlign: 'middle', fontSize: 20, fontFamily: SANS, fill: '#111'}}
    ]};
  };
}
const patBW5 = checker('#ffffff', '#000000', 5), patBW4 = checker('#ffffff', '#000000', 4), patGray = checker('#e9e9e9', '#b5b5b5', 4);
function addBars(box, specs, barW, gapPct, brackets, stars) {
  const g = grids.length;
  grids.push({left: box.left, top: box.top, width: box.width, height: box.height});
  const xi = xAxes.length;
  xAxes.push({type: 'category', gridIndex: g, position: 'bottom', data: barCategories,
    axisLine: {show: true, onZero: false, lineStyle: {color: '#000', width: 3}},
    axisTick: {show: true, alignWithLabel: true, length: 7, lineStyle: {color: '#000', width: 3}},
    axisLabel: {rotate: 45, fontWeight: 'bold', fontSize: 19, color: '#000', margin: 14, fontFamily: SANS, interval: 0}});
  const yi = yAxes.length;
  yAxes.push({type: 'value', gridIndex: g, position: 'left', min: 0, max: 125,
    axisLine: {show: true, onZero: false, lineStyle: {color: '#000', width: 3}}, splitLine: {show: false},
    axisTick: {show: true, customValues: liveTicks, length: 7, lineStyle: {color: '#000', width: 3}},
    axisLabel: {show: true, customValues: liveTicks, fontWeight: 'bold', fontSize: 18, color: '#000', margin: 5, fontFamily: SANS}});
  const n = specs.length, spacing = barW * (1 + gapPct / 100);
  specs.forEach(function (s, j) {
    series.push({type: 'bar', name: s.name, xAxisIndex: xi, yAxisIndex: yi, data: s.vals, barWidth: barW, barGap: gapPct + '%', silent: true,
      itemStyle: {color: s.fill, borderColor: '#000', borderWidth: 2.5}, z: 2});
    series.push({type: 'custom', xAxisIndex: xi, yAxisIndex: yi, silent: true, z: 3,
      data: s.vals.map(function (v, i) { return [i, v == null ? NaN : v, s.err[i]]; }), renderItem: barErrRender(n, j, spacing, barW * 0.42)});
  });
  series.push({type: 'custom', xAxisIndex: xi, yAxisIndex: yi, silent: true, z: 4, data: brackets, renderItem: bracketRender(n, spacing, stars)});
}
addBars({left: 776, top: 851.7, width: 368, height: 244}, [
  {name: barSeriesNames[0], vals: c1_CART, err: c1_CART_err, fill: '#000'},
  {name: barSeriesNames[1], vals: c1_CART_PD1, err: c1_CART_PD1_err, fill: patBW5},
  {name: barSeriesNames[2], vals: c1_NT, err: c1_NT_err, fill: '#fff'}], 17, 51, c1_brackets, c1_stars);
addBars({left: 775, top: 1220.7, width: 370, height: 241.6}, [
  {name: barSeriesNames[0], vals: c2_CART, err: c2_CART_err, fill: '#000'},
  {name: barSeriesNames[1], vals: c2_CART_PD1, err: c2_CART_PD1_err, fill: patBW4},
  {name: barSeriesNames[2], vals: c2_NT, err: c2_NT_err, fill: '#fff'},
  {name: barSeriesNames[3], vals: c2_NT_PD1, err: c2_NT_PD1_err, fill: patGray}], 13, 54, c2_brackets, c2_stars);
addBars({left: 772, top: 1584, width: 371, height: 242.7}, [
  {name: barSeriesNames[0], vals: c3_CART, err: c3_CART_err, fill: '#000'},
  {name: barSeriesNames[1], vals: c3_CART_PD1, err: c3_CART_PD1_err, fill: patBW4},
  {name: barSeriesNames[2], vals: c3_NT, err: c3_NT_err, fill: '#fff'},
  {name: barSeriesNames[3], vals: c3_NT_PD1, err: c3_NT_PD1_err, fill: patGray}], 14, 43, c3_brackets, c3_stars);
txt('C', 692, 832.5, 46, {align: 'left'});
txt('% of live cells', 723, 973, 21, {rot: Math.PI / 2});
txt('% of live cells', 722.5, 1341.7, 21, {rot: Math.PI / 2});
txt('% of live cells', 717, 1703, 21, {rot: Math.PI / 2});

const chart = echarts.init(document.getElementById('c'), null, {renderer: 'canvas', width: 1319, height: 1920});
chart.setOption({
  animation: false,
  backgroundColor: '#fff',
  textStyle: {fontFamily: SANS},
  grid: grids, xAxis: xAxes, yAxis: yAxes, series: series,
  legend: {data: barSeriesNames, orient: 'vertical', left: 1146, top: 866, icon: 'rect', itemWidth: 25, itemHeight: 24, itemGap: 10,
    padding: [10, 6, 10, 4], borderColor: '#4a78c2', borderWidth: 1.5, selectedMode: false,
    formatter: function (nm) { return ' ' + nm; },
    itemStyle: {borderColor: '#000', borderWidth: 2},
    textStyle: {fontSize: 20, color: '#000', fontFamily: SANS}},
  graphic: {elements: gfx}
});
</script></body></html>
